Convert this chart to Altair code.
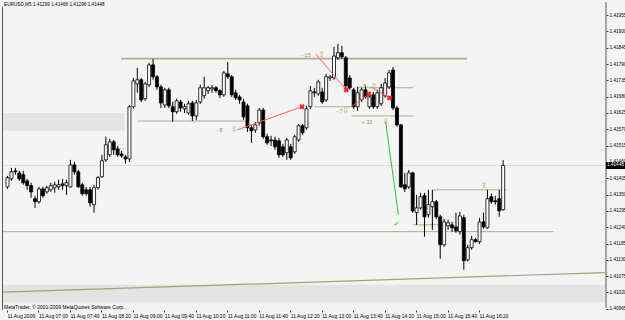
import json
import altair as alt
import pandas as pd

# ---------------- data ----------------
time_labels = ["11 Aug 2009", "11 Aug 07:00", "11 Aug 07:40", "11 Aug 08:20", "11 Aug 09:00",
               "11 Aug 09:40", "11 Aug 10:20", "11 Aug 11:00", "11 Aug 11:40", "11 Aug 12:20",
               "11 Aug 13:00", "11 Aug 13:40", "11 Aug 14:20", "11 Aug 15:00", "11 Aug 15:40",
               "11 Aug 16:20"]
price_ticks = [1.41955, 1.41900, 1.41845, 1.41790, 1.41735, 1.41680, 1.41625, 1.41570, 1.41515,
               1.41460, 1.41405, 1.41350, 1.41295, 1.41240, 1.41185, 1.41130, 1.41075, 1.41020,
               1.40965]

open_ = [
    1.41376, 1.41403, 1.41430, 1.41423, 1.41417, 1.41396, 1.41380, 1.41336, 1.41326, 1.41369,
    1.41359, 1.41366, 1.41373, 1.41376, 1.41386, 1.41380, 1.41376, 1.41450, 1.41427, 1.41383,
    1.41366, 1.41366, 1.41316, 1.41373, 1.41410, 1.41467, 1.41484, 1.41528, 1.41504, 1.41487,
    1.41477, 1.41470, 1.41646, 1.41723, 1.41737, 1.41673, 1.41720, 1.41787, 1.41747, 1.41713,
    1.41652, 1.41703, 1.41646, 1.41629, 1.41662, 1.41639, 1.41625, 1.41659, 1.41615, 1.41662,
    1.41683, 1.41700, 1.41706, 1.41710, 1.41700, 1.41686, 1.41757, 1.41747, 1.41693, 1.41679,
    1.41662, 1.41649, 1.41575, 1.41568, 1.41592, 1.41635, 1.41545, 1.41534, 1.41534, 1.41531,
    1.41511, 1.41491, 1.41511, 1.41494, 1.41534, 1.41582, 1.41575, 1.41646, 1.41696, 1.41689,
    1.41696, 1.41669, 1.41743, 1.41743, 1.41811, 1.41828, 1.41811, 1.41743, 1.41703, 1.41646,
    1.41669, 1.41703, 1.41646, 1.41686, 1.41646, 1.41656, 1.41683, 1.41713, 1.41770, 1.41642,
    1.41585, 1.41383, 1.41376, 1.41423, 1.41289, 1.41305, 1.41346, 1.41282, 1.41309, 1.41326,
    1.41275, 1.41181, 1.41245, 1.41248, 1.41241, 1.41225, 1.41272, 1.41130, 1.41171, 1.41198,
    1.41191, 1.41258, 1.41238, 1.41343, 1.41329, 1.41336, 1.41299]
high = [
    1.41413, 1.41440, 1.41440, 1.41430, 1.41430, 1.41403, 1.41390, 1.41346, 1.41376, 1.41376,
    1.41380, 1.41390, 1.41393, 1.41400, 1.41403, 1.41400, 1.41467, 1.41460, 1.41433, 1.41390,
    1.41376, 1.41376, 1.41383, 1.41413, 1.41484, 1.41545, 1.41538, 1.41534, 1.41514, 1.41497,
    1.41484, 1.41652, 1.41743, 1.41777, 1.41743, 1.41730, 1.41794, 1.41807, 1.41753, 1.41720,
    1.41710, 1.41710, 1.41662, 1.41673, 1.41669, 1.41656, 1.41666, 1.41666, 1.41669, 1.41720,
    1.41747, 1.41716, 1.41720, 1.41716, 1.41706, 1.41767, 1.41797, 1.41753, 1.41703, 1.41686,
    1.41673, 1.41656, 1.41585, 1.41595, 1.41642, 1.41642, 1.41555, 1.41548, 1.41545, 1.41541,
    1.41521, 1.41541, 1.41521, 1.41551, 1.41588, 1.41588, 1.41649, 1.41716, 1.41710, 1.41737,
    1.41710, 1.41757, 1.41753, 1.41848, 1.41858, 1.41851, 1.41817, 1.41753, 1.41710, 1.41713,
    1.41710, 1.41716, 1.41686, 1.41696, 1.41703, 1.41723, 1.41743, 1.41770, 1.41780, 1.41649,
    1.41588, 1.41423, 1.41433, 1.41427, 1.41349, 1.41356, 1.41356, 1.41366, 1.41366, 1.41332,
    1.41282, 1.41268, 1.41265, 1.41258, 1.41289, 1.41292, 1.41282, 1.41181, 1.41211, 1.41204,
    1.41272, 1.41289, 1.41366, 1.41353, 1.41346, 1.41366, 1.41466]
low = [
    1.41369, 1.41396, 1.41417, 1.41396, 1.41383, 1.41366, 1.41339, 1.41305, 1.41319, 1.41339,
    1.41353, 1.41359, 1.41356, 1.41366, 1.41366, 1.41349, 1.41373, 1.41417, 1.41373, 1.41346,
    1.41346, 1.41309, 1.41289, 1.41366, 1.41407, 1.41460, 1.41477, 1.41484, 1.41477, 1.41474,
    1.41454, 1.41460, 1.41639, 1.41693, 1.41662, 1.41666, 1.41713, 1.41737, 1.41703, 1.41642,
    1.41642, 1.41642, 1.41595, 1.41622, 1.41629, 1.41625, 1.41619, 1.41598, 1.41602, 1.41656,
    1.41673, 1.41689, 1.41693, 1.41693, 1.41676, 1.41679, 1.41740, 1.41679, 1.41669, 1.41656,
    1.41602, 1.41561, 1.41524, 1.41558, 1.41582, 1.41538, 1.41518, 1.41514, 1.41501, 1.41474,
    1.41477, 1.41467, 1.41467, 1.41487, 1.41528, 1.41551, 1.41568, 1.41639, 1.41679, 1.41683,
    1.41656, 1.41662, 1.41733, 1.41737, 1.41804, 1.41807, 1.41710, 1.41703, 1.41639, 1.41632,
    1.41662, 1.41673, 1.41639, 1.41639, 1.41639, 1.41649, 1.41676, 1.41706, 1.41635, 1.41578,
    1.41373, 1.41359, 1.41369, 1.41289, 1.41248, 1.41299, 1.41208, 1.41272, 1.41231, 1.41268,
    1.41134, 1.41174, 1.41231, 1.41225, 1.41221, 1.41215, 1.41097, 1.41124, 1.41164, 1.41188,
    1.41184, 1.41235, 1.41235, 1.41319, 1.41316, 1.41275, 1.41296]
close = [
    1.41407, 1.41427, 1.41427, 1.41403, 1.41390, 1.41380, 1.41359, 1.41326, 1.41369, 1.41346,
    1.41373, 1.41380, 1.41383, 1.41383, 1.41380, 1.41390, 1.41450, 1.41427, 1.41376, 1.41353,
    1.41353, 1.41322, 1.41373, 1.41407, 1.41464, 1.41518, 1.41528, 1.41501, 1.41484, 1.41481,
    1.41470, 1.41646, 1.41733, 1.41737, 1.41669, 1.41723, 1.41787, 1.41747, 1.41713, 1.41659,
    1.41703, 1.41649, 1.41629, 1.41666, 1.41642, 1.41646, 1.41656, 1.41615, 1.41659, 1.41710,
    1.41710, 1.41710, 1.41710, 1.41700, 1.41686, 1.41760, 1.41747, 1.41686, 1.41676, 1.41669,
    1.41612, 1.41575, 1.41565, 1.41585, 1.41635, 1.41545, 1.41524, 1.41531, 1.41511, 1.41484,
    1.41484, 1.41534, 1.41474, 1.41545, 1.41582, 1.41558, 1.41639, 1.41700, 1.41693, 1.41730,
    1.41662, 1.41747, 1.41747, 1.41817, 1.41828, 1.41814, 1.41716, 1.41710, 1.41646, 1.41693,
    1.41703, 1.41679, 1.41679, 1.41646, 1.41693, 1.41710, 1.41726, 1.41760, 1.41642, 1.41585,
    1.41376, 1.41369, 1.41423, 1.41295, 1.41305, 1.41343, 1.41275, 1.41316, 1.41326, 1.41275,
    1.41181, 1.41258, 1.41255, 1.41238, 1.41228, 1.41278, 1.41127, 1.41171, 1.41198, 1.41191,
    1.41258, 1.41241, 1.41336, 1.41326, 1.41326, 1.41295, 1.41448]

# horizontal levels: price, from bar, to bar
level_price = [1.41808, 1.41598, 1.41646, 1.41710, 1.41615, 1.41366, 1.41248, 1.41225]
level_from = [29, 33.25, 78.25, 89, 87.5, 108.25, 103.25, -1]
level_to = [117, 60.75, 88.25, 103.25, 103.25, 127, 110.25, 139]
level_width = [1.6, 1, 1, 1, 1, 1, 1, 1]

# long trend line (bar, price)
trend_bar = [-1, 152]
trend_price = [1.41021, 1.41087]

# shaded zones: bar from/to, price from/to
zone_from = [-1, -1]
zone_to = [30, 152]
zone_lo = [1.41565, 1.40986]
zone_hi = [1.41625, 1.41046]

# red signal lines (bar1, price1, bar2, price2)
red_b1 = [58.5, 78.5, 87.5, 92.5]
red_p1 = [1.41568, 1.41824, 1.41646, 1.41713]
red_b2 = [75, 86.25, 92, 97.25]
red_p2 = [1.41646, 1.41703, 1.41689, 1.41676]

# green line
green_bar = [96.25, 99.5]
green_price = [1.41595, 1.41282]

# annotation texts
note_bar = [76, 54, 84.5, 90.5, 91.5]
note_price = [1.41821, 1.41568, 1.41632, 1.41716, 1.41595]
note_text = ["- 15", "- 8", "- 7", "- 5", "+ 32"]

# arrow glyphs
arrow_bar = [80, 57.75, 86, 93.25, 96.25, 121.25]
arrow_price = [1.41821, 1.41568, 1.41632, 1.41713, 1.41595, 1.41380]
arrow_text = ["⇧", "⇩", "⇩", "⇧", "⇩", "⇧"]

check_bar = [99]
check_price = [1.41252]

n = len(open_)
bars = list(range(n))

candles = pd.DataFrame({"i": bars, "open": open_, "high": high, "low": low, "close": close})
levels = pd.DataFrame({"p": level_price, "a": level_from, "b": level_to, "w": level_width})
trend = pd.DataFrame({"a": [trend_bar[0]], "b": [trend_bar[1]],
                      "p1": [trend_price[0]], "p2": [trend_price[1]]})
zones = pd.DataFrame({"a": zone_from, "b": zone_to, "lo": zone_lo, "hi": zone_hi})
reds = pd.DataFrame({"a": red_b1, "p1": red_p1, "b": red_b2, "p2": red_p2})
greens = pd.DataFrame({"a": [green_bar[0]], "b": [green_bar[1]],
                       "p1": [green_price[0]], "p2": [green_price[1]]})
notes = pd.DataFrame({"i": note_bar, "p": note_price, "t": note_text})
arrows = pd.DataFrame({"i": arrow_bar, "p": arrow_price, "t": arrow_text})
checks = pd.DataFrame({"i": check_bar, "p": check_price, "t": ["✓"]})
last = pd.DataFrame({"p": [close[-1]], "t": [f"{close[-1]:.5f}"]})

title_txt = f"EURUSD,M5  {open_[-1]:.5f} {high[-1]:.5f} {low[-1]:.5f} {close[-1]:.5f}"

FONT = "Liberation Sans"
xscale = alt.Scale(domain=[0, 151], nice=False, zero=False)
yscale = alt.Scale(domain=[1.40961, 1.41999], nice=False, zero=False)

label_expr = json.dumps(time_labels) + "[round(datum.value / 8)]"
x_axis = alt.Axis(values=list(range(0, 121, 8)), labelExpr=label_expr, labelAlign="left",
                  labelFont=FONT, labelFontSize=5, labelColor="black", tickColor="#333333",
                  tickSize=2, domain=False, grid=False, labelPadding=1, labelOverlap=False,
                  labelFlush=False, labelBound=False, labelBaseline="top")
y_axis = alt.Axis(values=price_ticks, format=".5f", orient="right", labelFont=FONT,
                  labelFontSize=4.7, labelColor="black", tickColor="#333333", tickSize=2,
                  domain=False, grid=False, labelPadding=1, labelOverlap=False,
                  labelFlush=False, labelBound=False)


def X(f):
    return alt.X(f"{f}:Q", scale=xscale, axis=x_axis, title=None)


def Y(f):
    return alt.Y(f"{f}:Q", scale=yscale, axis=y_axis, title=None)


zone_layer = alt.Chart(zones).mark_rect(color="#e4e4e4", clip=True).encode(
    x=X("a"), x2="b", y=Y("lo"), y2="hi")

bid_layer = alt.Chart(last).mark_rule(color="#dcdcf0", strokeWidth=1, clip=True).encode(
    y=Y("p"), x=alt.value(0), x2=alt.value(604))

level_layer = alt.Chart(levels).mark_rule(color="#a7b08a", clip=True).encode(
    x=X("a"), x2="b", y=Y("p"), strokeWidth=alt.StrokeWidth("w:Q", scale=None, legend=None))

trend_layer = alt.Chart(trend).mark_rule(color="#9aa67a", strokeWidth=1.2, clip=True).encode(
    x=X("a"), x2="b", y=Y("p1"), y2="p2")

frame_layer = alt.Chart(last).mark_rule(color="#555555", strokeWidth=1).encode(
    x=alt.value(0.5), x2=alt.value(0.5), y=alt.value(5), y2=alt.value(308))
frame_right = alt.Chart(last).mark_rule(color="#555555", strokeWidth=1).encode(
    x=alt.value(604), x2=alt.value(604), y=alt.value(0), y2=alt.value(306))

wick_layer = alt.Chart(candles).mark_rule(color="black", strokeWidth=1, xOffset=0.5).encode(
    x=X("i"), y=Y("low"), y2="high")

body_layer = alt.Chart(candles).mark_bar(size=3, stroke="black", strokeWidth=0.8,
                                         xOffset=0.5).encode(
    x=X("i"), y=Y("open"), y2="close",
    fill=alt.condition("datum.close >= datum.open", alt.value("white"), alt.value("black")))

red_layer = alt.Chart(reds).mark_rule(color="#ff5a5a", strokeWidth=1).encode(
    x=X("a"), x2="b", y=Y("p1"), y2="p2")

red_marks = alt.Chart(reds).mark_point(shape="cross", angle=45, size=30, filled=True,
                                       color="#ff2020", opacity=1).encode(
    x=X("b"), y=Y("p2"))

green_layer = alt.Chart(greens).mark_rule(color="#38c038", strokeWidth=1).encode(
    x=X("a"), x2="b", y=Y("p1"), y2="p2")

note_layer = alt.Chart(notes).mark_text(font=FONT, fontSize=5.5, color="#7f8c60",
                                        align="center", baseline="middle").encode(
    x=X("i"), y=Y("p"), text="t:N")

arrow_layer = alt.Chart(arrows).mark_text(font="DejaVu Sans", fontSize=8, color="#98a276",
                                          align="center", baseline="middle").encode(
    x=X("i"), y=Y("p"), text="t:N")

check_layer = alt.Chart(checks).mark_text(font="DejaVu Sans", fontSize=7, color="#30b030",
                                          align="center", baseline="middle").encode(
    x=X("i"), y=Y("p"), text="t:N")

price_box = alt.Chart(last).mark_rule(color="black", strokeWidth=7).encode(
    y=Y("p"), x=alt.value(604), x2=alt.value(623))
price_txt = alt.Chart(last).mark_text(font=FONT, fontSize=4.7, color="white", align="left",
                                      baseline="middle").encode(
    y=Y("p"), x=alt.value(605), text="t:N")

title_layer = alt.Chart(last).mark_text(font=FONT, fontSize=4.7, color="black", align="left",
                                        baseline="middle").encode(
    x=alt.value(2), y=alt.value(3), text=alt.value(title_txt))
copy_layer = alt.Chart(last).mark_text(font=FONT, fontSize=5, color="black", align="left",
                                       baseline="middle").encode(
    x=alt.value(2), y=alt.value(305),
    text=alt.value("MetaTrader, © 2001-2009 MetaQuotes Software Corp."))

chart = alt.layer(
    zone_layer, bid_layer, level_layer, trend_layer, frame_layer, frame_right,
    wick_layer, body_layer,
    red_layer, red_marks, green_layer, note_layer, arrow_layer, check_layer,
    price_box, price_txt, title_layer, copy_layer
).properties(
    width=604, height=308,
    autosize=alt.AutoSizeParams(type="none"),
    padding={"left": 2, "top": 2, "right": 19, "bottom": 10},
    background="#f4f4f4",
).configure_view(strokeWidth=0, fill="#f4f4f4")

chart.save("out.html", embed_options={"renderer": "svg", "actions": False})
